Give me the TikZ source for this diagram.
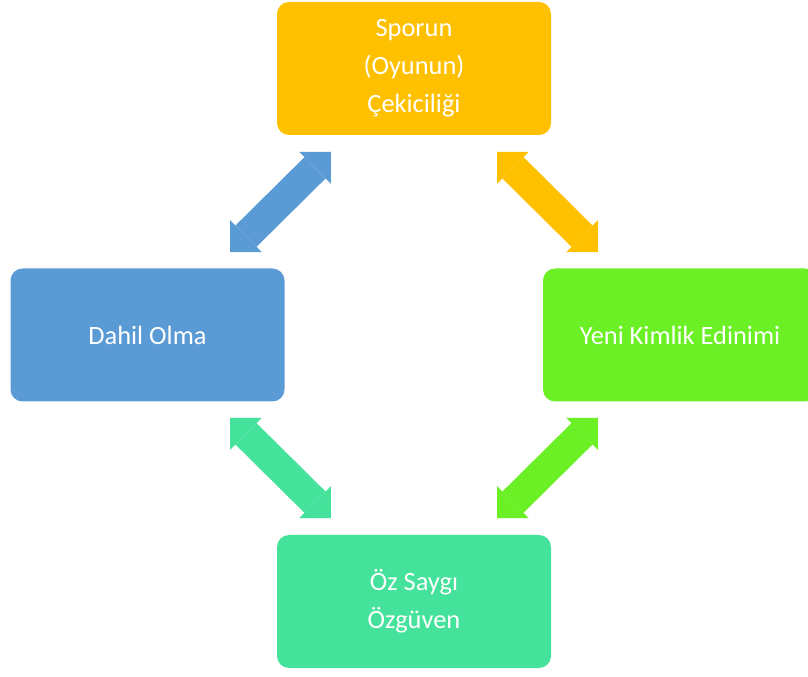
\documentclass[tikz,border=0pt]{standalone}
\usepackage{fontspec}
\setmainfont{Carlito}
\usetikzlibrary{arrows.meta}

\definecolor{sporcolor}{RGB}{255,192,0}
\definecolor{dahilcolor}{RGB}{91,155,213}
\definecolor{kimlikcolor}{RGB}{106,240,36}
\definecolor{ozcolor}{RGB}{68,226,154}

\tikzset{
  box/.style={rounded corners=9pt, minimum width=205.5pt, minimum height=99.75pt,
    inner sep=0pt, text=white, align=center, font=\fontsize{19.8}{28.5}\selectfont},
  biarrow/.style={line width=22.5pt,
    {Triangle[width=33.75pt,length=16.875pt,line width=0pt]}-{Triangle[width=33.75pt,length=16.875pt,line width=0pt]}},
}

\begin{document}
\begin{tikzpicture}[x=0.75pt,y=0.75pt,yscale=-1,xscale=1]
\useasboundingbox (0,0) rectangle (808,677);

% Boxes
\node [box, fill=sporcolor] (sporun) at (414,68.5) {Sporun\\(Oyunun)\\Çekiciliği};
\node [box, fill=dahilcolor] (dahil) at (147.5,335) {Dahil Olma};
\node [box, fill=kimlikcolor] (kimlik) at (680,335) {Yeni Kimlik Edinimi};
\node [box, fill=ozcolor] (ozsaygi) at (414,601.5) {Öz Saygı\\Özgüven};

% Arrow ends
\coordinate (sporunL) at (331,152);
\coordinate (dahilT) at (230,252);
\coordinate (sporunR) at (497,152);
\coordinate (kimlikT) at (598,252);
\coordinate (dahilB) at (230,418);
\coordinate (ozsaygiL) at (331,518);
\coordinate (kimlikB) at (598,418);
\coordinate (ozsaygiR) at (497,518);

% Arrows
\draw [biarrow, dahilcolor] (sporunL) -- (dahilT);
\draw [biarrow, sporcolor] (sporunR) -- (kimlikT);
\draw [biarrow, ozcolor] (dahilB) -- (ozsaygiL);
\draw [biarrow, kimlikcolor] (kimlikB) -- (ozsaygiR);

\end{tikzpicture}
\end{document}
